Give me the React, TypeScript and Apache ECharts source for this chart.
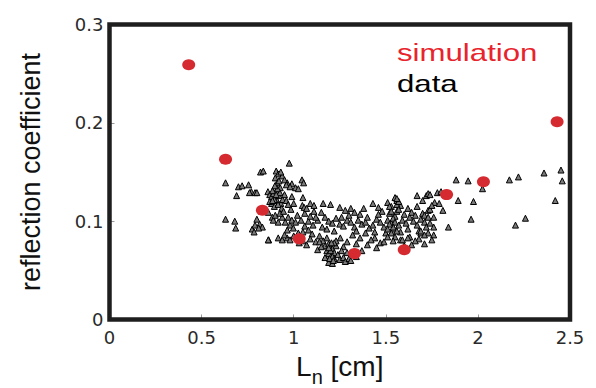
import React, { useEffect, useRef } from "react";
import * as echarts from "echarts";

const xTicks = ["0", "0.5", "1", "1.5", "2", "2.5"];
const yTicks = ["0", "0.1", "0.2", "0.3"];

const simulation: [number, number][] = [
  [0.43, 0.259], [0.63, 0.163], [0.83, 0.111], [1.03, 0.082], [1.33, 0.067],
  [1.6, 0.071], [1.83, 0.127], [2.03, 0.14], [2.43, 0.201],
];

const dataLeft: [number, number][] = [
  [0.63, 0.139], [0.69, 0.126], [0.63, 0.102], [0.68, 0.1], [0.685, 0.093], [0.7, 0.135],
  [0.72, 0.136], [0.755, 0.137], [0.77, 0.13], [0.79, 0.129], [0.76, 0.129], [0.775, 0.092],
  [0.785, 0.089], [0.8, 0.102], [0.815, 0.097], [0.83, 0.094], [0.864, 0.081], [0.82, 0.15],
  [0.835, 0.151], [0.79, 0.096], [0.81, 0.093], [0.8, 0.129],
];

const dataCluster1: [number, number][] = [
  [0.905, 0.151], [0.916, 0.148], [0.9, 0.144], [0.938, 0.146], [0.965, 0.139], [0.99, 0.138],
  [0.91, 0.139], [0.927, 0.134], [0.976, 0.159], [0.92, 0.141], [0.95, 0.142], [0.93, 0.15],
  [0.96, 0.137], [0.98, 0.135], [1.01, 0.134], [1.025, 0.133], [1.045, 0.142], [1.054, 0.139],
  [1.05, 0.124], [1.047, 0.116], [1.057, 0.114],
  [0.86, 0.13], [0.87, 0.127], [0.88, 0.125], [0.89, 0.128], [0.9, 0.124], [0.91, 0.121],
  [0.92, 0.126], [0.93, 0.118], [0.94, 0.122], [0.88, 0.118], [0.895, 0.115], [0.905, 0.131],
  [0.915, 0.117], [0.925, 0.129], [0.87, 0.12], [0.935, 0.113], [0.95, 0.127], [0.96, 0.121],
  [0.97, 0.117], [0.985, 0.112], [1.0, 0.118], [0.99, 0.125],
  [0.885, 0.131], [0.895, 0.122], [0.905, 0.127], [0.912, 0.133], [0.898, 0.136], [0.885, 0.121],
  [0.862, 0.109], [0.884, 0.104], [0.889, 0.101], [0.916, 0.099], [0.938, 0.104], [0.954, 0.099],
  [0.98, 0.096], [0.998, 0.093], [0.965, 0.091], [0.9, 0.106], [0.925, 0.108], [0.945, 0.11],
  [0.97, 0.104], [0.99, 0.101], [1.01, 0.099], [1.02, 0.106], [0.862, 0.081], [0.916, 0.083],
  [0.938, 0.081], [0.965, 0.083], [0.98, 0.081], [0.95, 0.086], [1.0, 0.085],
];

const dataCluster2: [number, number][] = [
  [1.025, 0.088], [1.05, 0.089], [1.08, 0.091], [1.105, 0.096], [1.13, 0.101], [1.155, 0.094],
  [1.07, 0.076], [1.12, 0.079], [1.13, 0.071], [1.06, 0.095], [1.08, 0.1], [1.09, 0.105],
  [1.11, 0.11], [1.12, 0.104], [1.04, 0.101], [1.06, 0.108], [1.1, 0.087], [1.14, 0.085],
  [1.15, 0.109], [1.03, 0.078], [1.05, 0.08], [1.09, 0.082], [1.07, 0.113], [1.09, 0.118],
  [1.11, 0.116],
  [1.16, 0.118], [1.2, 0.117], [1.31, 0.113], [1.33, 0.109], [1.38, 0.113], [1.43, 0.118],
  [1.51, 0.119], [1.55, 0.124], [1.56, 0.121], [1.72, 0.126], [1.25, 0.114], [1.28, 0.111],
  [1.46, 0.114], [1.48, 0.11], [1.53, 0.115], [1.58, 0.116], [1.62, 0.113], [1.67, 0.115],
  [1.17, 0.104], [1.19, 0.1], [1.21, 0.098], [1.23, 0.103], [1.25, 0.097], [1.27, 0.095],
  [1.29, 0.101], [1.31, 0.099], [1.33, 0.094], [1.35, 0.101], [1.37, 0.097], [1.39, 0.099],
  [1.41, 0.093], [1.43, 0.096], [1.45, 0.102], [1.47, 0.099], [1.49, 0.094], [1.51, 0.101],
  [1.53, 0.098], [1.55, 0.105], [1.57, 0.096], [1.59, 0.101], [1.61, 0.098], [1.63, 0.104],
  [1.65, 0.1], [1.67, 0.096], [1.69, 0.102], [1.71, 0.099],
  [1.18, 0.092], [1.22, 0.09], [1.26, 0.104], [1.3, 0.106], [1.34, 0.09], [1.36, 0.107],
  [1.4, 0.104], [1.44, 0.089], [1.46, 0.107], [1.5, 0.088], [1.52, 0.108], [1.54, 0.092],
  [1.56, 0.11], [1.58, 0.089], [1.6, 0.107], [1.62, 0.092], [1.64, 0.109], [1.66, 0.106],
  [1.68, 0.09], [1.7, 0.108],
  [1.52, 0.115], [1.53, 0.11], [1.54, 0.103], [1.55, 0.099], [1.54, 0.094], [1.53, 0.088],
  [1.55, 0.084], [1.54, 0.08], [1.56, 0.09], [1.52, 0.097], [1.51, 0.092], [1.56, 0.117],
  [1.57, 0.112],
  [1.253, 0.083], [1.29, 0.079], [1.32, 0.086], [1.39, 0.088], [1.44, 0.083], [1.47, 0.078],
  [1.51, 0.084], [1.58, 0.081], [1.63, 0.084], [1.69, 0.088], [1.27, 0.074], [1.34, 0.077],
  [1.37, 0.07], [1.4, 0.076], [1.45, 0.073], [1.49, 0.079], [1.42, 0.081], [1.36, 0.083],
];

const dataCluster3: [number, number][] = [
  [1.16, 0.08], [1.17, 0.075], [1.18, 0.07], [1.19, 0.077], [1.2, 0.065], [1.21, 0.072],
  [1.2, 0.06], [1.19, 0.058], [1.21, 0.057], [1.22, 0.068], [1.22, 0.062], [1.23, 0.075],
  [1.24, 0.066], [1.18, 0.083], [1.15, 0.074], [1.14, 0.079], [1.25, 0.061], [1.27, 0.063],
  [1.28, 0.059], [1.3, 0.062], [1.31, 0.06], [1.26, 0.07], [1.23, 0.08], [1.19, 0.067],
  [1.17, 0.063], [1.22, 0.078], [1.34, 0.064], [1.29, 0.068],
  [1.2, 0.07], [1.21, 0.064], [1.19, 0.073], [1.205, 0.078], [1.195, 0.062], [1.215, 0.06],
];

const dataRight: [number, number][] = [
  [1.57, 0.12], [1.56, 0.123], [1.67, 0.126], [1.73, 0.128], [1.78, 0.129], [1.74, 0.127],
  [1.765, 0.119], [1.7, 0.121], [1.73, 0.111], [1.74, 0.112], [1.75, 0.116], [1.71, 0.106],
  [1.73, 0.104], [1.76, 0.104], [1.74, 0.098], [1.72, 0.094], [1.76, 0.094], [1.69, 0.09],
  [1.73, 0.088], [1.76, 0.086], [1.75, 0.081], [1.71, 0.086], [1.68, 0.082], [1.71, 0.077],
  [1.66, 0.08], [1.62, 0.083], [1.6, 0.075], [1.59, 0.081], [1.64, 0.076],
  [1.84, 0.094], [1.882, 0.142], [1.947, 0.141], [1.893, 0.121], [1.976, 0.12], [1.963, 0.102],
  [2.025, 0.133], [2.171, 0.142], [2.22, 0.145], [2.359, 0.149], [2.451, 0.152], [2.458, 0.141],
  [2.42, 0.121], [2.204, 0.096], [2.258, 0.103], [1.8, 0.13], [1.83, 0.128], [1.79, 0.118],
  [1.81, 0.111],
];

const measured = [...dataLeft, ...dataCluster1, ...dataCluster2, ...dataCluster3, ...dataRight];

const GRID = { left: 109.5, top: 24.5, width: 460.5, height: 295 };

export default function App() {
  const ref = useRef<HTMLDivElement>(null);
  useEffect(() => {
    if (!ref.current) return;
    const chart = echarts.init(ref.current, undefined, { renderer: "svg" });
    const labelFont = { fontFamily: "DejaVu Sans", fontSize: 18, color: "#2a2a2a" };
    const tick = { show: true, inside: true, length: 5, lineStyle: { color: "#999", width: 1 } };
    chart.setOption({
      animation: false,
      backgroundColor: "#fff",
      grid: { ...GRID, containLabel: false, outerBoundsMode: "none" },
      xAxis: {
        type: "value",
        min: 0,
        max: 2.5,
        interval: 0.5,
        axisLine: { show: false },
        splitLine: { show: false },
        axisTick: tick,
        axisLabel: {
          ...labelFont,
          margin: 9,
          formatter: (v: number) => xTicks[Math.round(v / 0.5)] ?? String(v),
        },
        name: "{a|L}{b|n}{a| [cm]}",
        nameLocation: "middle",
        nameGap: 33,
        nameTextStyle: {
          rich: {
            a: { fontFamily: "Liberation Sans", fontSize: 28, color: "#111", lineHeight: 34, verticalAlign: "top" },
            b: { fontFamily: "Liberation Sans", fontSize: 20, color: "#111", lineHeight: 20, verticalAlign: "bottom" },
          },
        },
      },
      yAxis: {
        type: "value",
        min: 0,
        max: 0.3,
        interval: 0.1,
        axisLine: { show: false },
        splitLine: { show: false },
        axisTick: tick,
        axisLabel: {
          ...labelFont,
          margin: 6,
          formatter: (v: number) => yTicks[Math.round(v / 0.1)] ?? String(v),
        },
        name: "reflection coefficient",
        nameLocation: "middle",
        nameGap: 65,
        nameTextStyle: { fontFamily: "Liberation Sans", fontSize: 27, color: "#111" },
      },
      graphic: [
        {
          type: "rect",
          shape: { x: GRID.left, y: GRID.top, width: GRID.width, height: GRID.height },
          style: { fill: "none", stroke: "#1e1e1e", lineWidth: 4.5 },
          z: 1,
          silent: true,
        },
        {
          type: "text",
          x: 397,
          y: 53,
          scaleX: 1.3,
          style: { text: "simulation", font: "24px 'Liberation Sans'", fill: "#e8232c", verticalAlign: "middle" },
          z: 10,
        },
        {
          type: "text",
          x: 397,
          y: 84,
          scaleX: 1.3,
          style: { text: "data", font: "24px 'Liberation Sans'", fill: "#000", verticalAlign: "middle" },
          z: 10,
        },
      ],
      series: [
        {
          name: "data",
          type: "scatter",
          data: measured,
          symbol: "triangle",
          symbolSize: 6,
          itemStyle: { color: "#7a7a7a", borderColor: "#000", borderWidth: 1, opacity: 1 },
          z: 2,
        },
        {
          name: "simulation",
          type: "scatter",
          data: simulation,
          symbol: "circle",
          symbolSize: [13, 11],
          itemStyle: { color: "#d42a30", opacity: 1 },
          z: 3,
        },
      ],
    });
    return () => chart.dispose();
  }, []);
  return <div ref={ref} style={{ width: 596, height: 388, position: "absolute", left: 0, top: 0 }} />;
}
